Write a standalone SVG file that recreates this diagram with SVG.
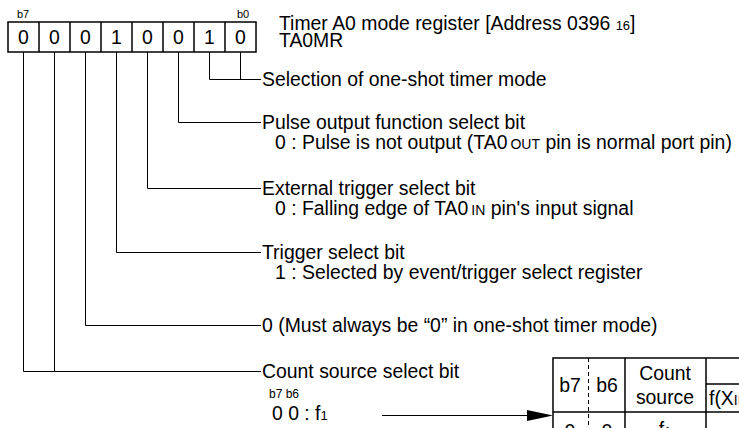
<svg xmlns="http://www.w3.org/2000/svg" width="739" height="428" viewBox="0 0 739 428">
<style>
.t{font-family:"Liberation Sans",Arial,sans-serif;font-size:19.4px;fill:#000}
.s{font-size:11px}
.sm{font-size:13px}
.sc{font-size:14px}
.c{fill:none;stroke:#000;stroke-width:1}
.b{fill:#fff;stroke:#000;stroke-width:1.5}
.tb{fill:none;stroke:#000;stroke-width:1.5}
.d{fill:none;stroke:#000;stroke-width:1;stroke-dasharray:4 3}
.m{text-anchor:middle}
</style>
<rect width="739" height="428" fill="#fff"/>
<g id="register">
  <text class="t s" x="17" y="18">b7</text>
  <text class="t s" x="237" y="18">b0</text>
  <rect class="b" x="8" y="22" width="248" height="30"/>
  <path class="c" d="M39 22V52M70 22V52M101 22V52M132 22V52M163 22V52M194 22V52M225 22V52" style="stroke-width:1.5"/>
  <g class="t m">
    <text x="23.5" y="44">0</text><text x="54.5" y="44">0</text><text x="85.5" y="44">0</text><text x="116.5" y="44">1</text>
    <text x="147.5" y="44">0</text><text x="178.5" y="44">0</text><text x="209.5" y="44">1</text><text x="240.5" y="44">0</text>
  </g>
</g>
<g id="title">
  <text class="t" x="279" y="30">Timer A0 mode register  [Address 0396 <tspan class="sm">16</tspan>]</text>
  <text class="t" x="279" y="47">TA0MR</text>
</g>
<g id="connectors">
  <path class="c" d="M209.5 52V79.5H261M240.5 52V79.5"/>
  <path class="c" d="M178.5 52V122.5H261"/>
  <path class="c" d="M147.5 52V188.5H261"/>
  <path class="c" d="M116.5 52V252.5H261"/>
  <path class="c" d="M85.5 52V325.5H261"/>
  <path class="c" d="M23.5 52V371.5H261M54.5 52V371.5"/>
  <path class="c" d="M382 415.5H530"/>
  <polygon points="527,410 553,415.5 527,421" fill="#000"/>
</g>
<g id="bit-b1-b0">
  <text class="t" x="262" y="86">Selection of one-shot timer mode</text>
</g>
<g id="bit-b2">
  <text class="t" x="262" y="129">Pulse output function select bit</text>
  <text class="t" x="275" y="149">0 : Pulse is not output (TA0<tspan class="sc" dx="3">OUT</tspan> pin is normal port pin)</text>
</g>
<g id="bit-b3">
  <text class="t" x="262" y="195">External trigger select bit</text>
  <text class="t" x="275" y="215">0 : Falling edge of TA0<tspan class="sc" dx="3">IN</tspan> pin's input signal</text>
</g>
<g id="bit-b4">
  <text class="t" x="262" y="259">Trigger select bit</text>
  <text class="t" x="275" y="279">1 : Selected by event/trigger select register</text>
</g>
<g id="bit-b5">
  <text class="t" x="262" y="332">0 (Must always be “0” in one-shot timer mode)</text>
</g>
<g id="bit-b7-b6">
  <text class="t" x="262" y="378">Count source select bit</text>
  <text class="t" x="269" y="398" style="font-size:12px">b7 b6</text>
  <text class="t" x="272" y="420">0 0 : f<tspan class="sm">1</tspan></text>
</g>
<g id="count-table">
  <path class="tb" d="M553 440V358H745M553 412H745M625 358V440M706 358V440M706 384H745"/>
  <path class="d" d="M588.5 358V440"/>
  <text class="t m" x="570" y="392">b7</text>
  <text class="t m" x="607" y="392">b6</text>
  <text class="t m" x="665" y="380">Count</text>
  <text class="t m" x="665" y="404">source</text>
  <text class="t" x="709" y="405">f(X<tspan class="sc">IN</tspan>)</text>
  <text class="t m" x="570" y="438">0</text>
  <text class="t m" x="607" y="438">0</text>
  <text class="t m" x="665" y="436">f<tspan class="sm">1</tspan></text>
</g>
</svg>
